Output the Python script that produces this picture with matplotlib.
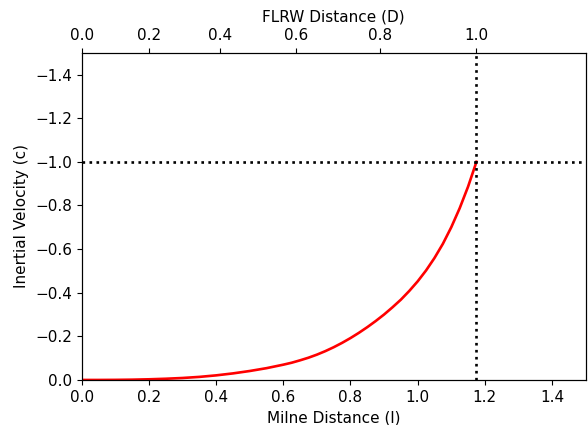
import matplotlib
matplotlib.use("Agg")
import matplotlib.pyplot as plt

# Milne distance (l) vs inertial velocity (c)
milne_l = [0.0, 0.05, 0.1, 0.15, 0.2, 0.25, 0.3, 0.35, 0.4, 0.45, 0.5, 0.55,
           0.6, 0.625, 0.65, 0.675, 0.7, 0.725, 0.75, 0.775, 0.8, 0.825,
           0.85, 0.875, 0.9, 0.925, 0.95, 0.975, 1.0, 1.025, 1.05, 1.075,
           1.1, 1.125, 1.15, 1.175]
velocity = [0.0, 0.0, -0.0004, -0.0013, -0.003, -0.0055, -0.009, -0.014,
            -0.021, -0.030, -0.041, -0.054, -0.070, -0.079, -0.090, -0.102,
            -0.116, -0.132, -0.150, -0.170, -0.192, -0.216, -0.242, -0.270,
            -0.300, -0.333, -0.368, -0.408, -0.452, -0.502, -0.559, -0.624,
            -0.700, -0.787, -0.886, -1.0]

# FLRW distance ticks on the top axis and where they sit in Milne distance
flrw_labels = ["0.0", "0.2", "0.4", "0.6", "0.8", "1.0"]
flrw_at_milne = [0.0, 0.201, 0.411, 0.637, 0.888, 1.175]

limit_l = 1.175
limit_v = -1.0


def main():
    plt.rcParams["font.size"] = 11
    fig, ax = plt.subplots(figsize=(5.88, 4.25), dpi=100)
    fig.subplots_adjust(left=0.139, right=0.996, top=0.876, bottom=0.106)

    ax.plot(milne_l, velocity, color="red", lw=1.9)
    ax.axvline(limit_l, color="black", ls=":", lw=1.9)
    ax.axhline(limit_v, color="black", ls=":", lw=1.9)

    ax.set_xlim(0, 1.5)
    ax.set_ylim(0, -1.5)
    ax.set_xlabel("Milne Distance (l)", labelpad=4.5)
    ax.set_ylabel("Inertial Velocity (c)")

    top = ax.twiny()
    top.set_xlim(ax.get_xlim())
    top.set_xticks(flrw_at_milne)
    top.set_xticklabels(flrw_labels)
    top.set_xlabel("FLRW Distance (D)", labelpad=4.5)

    fig.savefig("out.png", dpi=100)


if __name__ == "__main__":
    main()
